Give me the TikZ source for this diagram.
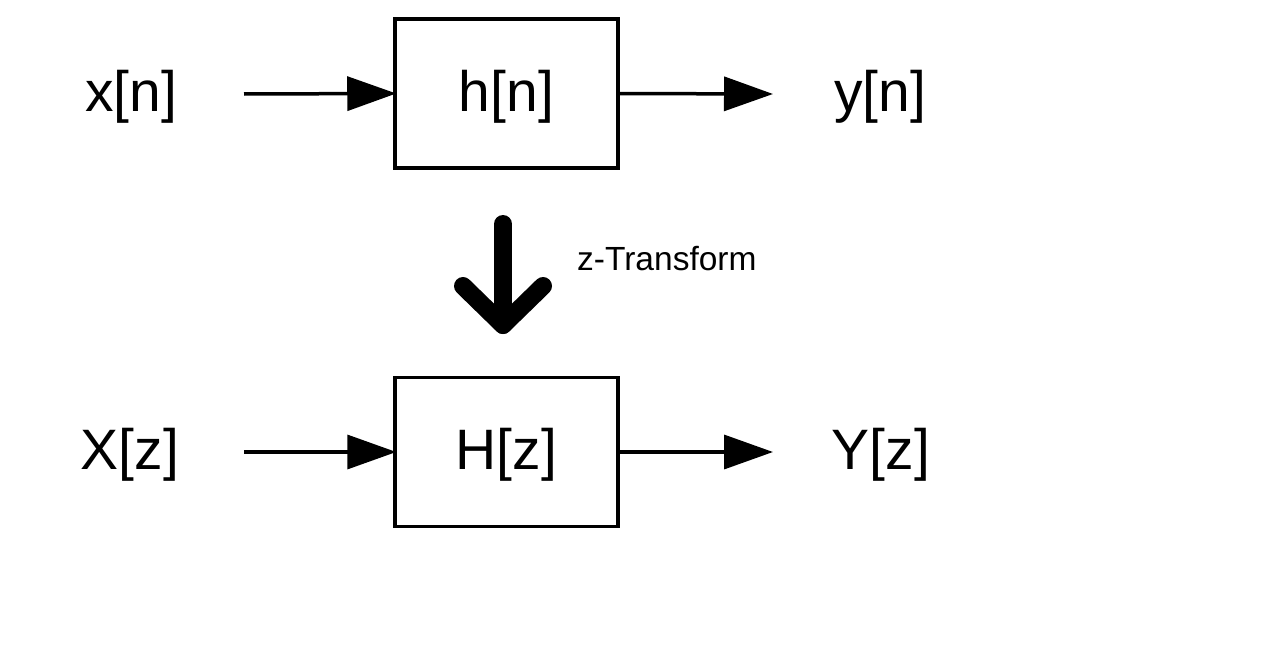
\documentclass[tikz,border=0pt]{standalone}
\usepackage{fontspec}
\setmainfont{Liberation Sans}
\usetikzlibrary{arrows.meta}
\tikzset{
  lbl/.style={inner sep=0pt, font=\fontsize{57}{62}\selectfont},
  sysbox/.style={draw, line width=3.5pt, minimum width=223pt, minimum height=149pt, inner sep=0pt, font=\fontsize{57}{62}\selectfont},
  sig/.style={line width=3.5pt, -{Triangle[length=49pt,width=34pt]}},
  bigarrow/.style={line width=18pt, line cap=round, line join=round},
  small/.style={inner sep=0pt, font=\fontsize{33.5}{38}\selectfont}
}
\begin{document}
\begin{tikzpicture}[x=1pt,y=-1pt]
\useasboundingbox (0,0) rectangle (1271,661);
\fill[white] (0,0) rectangle (1271,661);
% top row
\node[lbl] (xn) at (131,97) {x[n]};
\node[sysbox] (hn) at (506.5,93.5) {};
\node[lbl] (hnl) at (506.5,97) {h[n]};
\node[lbl] (yn) at (880,97) {y[n]};
\coordinate (a1) at (244,94);
\coordinate (a2) at (773,94);
\draw[sig, shorten >=-3pt] (a1) -- (hn.west);
\draw[sig] (hn.east) -- (a2);
% transform arrow
\coordinate (s1) at (503,224);
\coordinate (s2) at (503,325);
\coordinate (l1) at (463,286);
\coordinate (r1) at (543,286);
\draw[bigarrow] (s1) -- (s2);
\draw[bigarrow] (l1) -- (s2) -- (r1);
\node[small, anchor=base west] (zt) at (577,270) {z-Transform};
% bottom row
\node[lbl] (Xz) at (130,455) {X[z]};
\node[sysbox] (Hz) at (506.5,452) {};
\node[lbl] (Hzl) at (506.5,455) {H[z]};
\node[lbl] (Yz) at (881,455) {Y[z]};
\coordinate (b1) at (244,452);
\coordinate (b2) at (773,452);
\draw[sig, shorten >=-3pt] (b1) -- (Hz.west);
\draw[sig] (Hz.east) -- (b2);
\end{tikzpicture}
\end{document}
